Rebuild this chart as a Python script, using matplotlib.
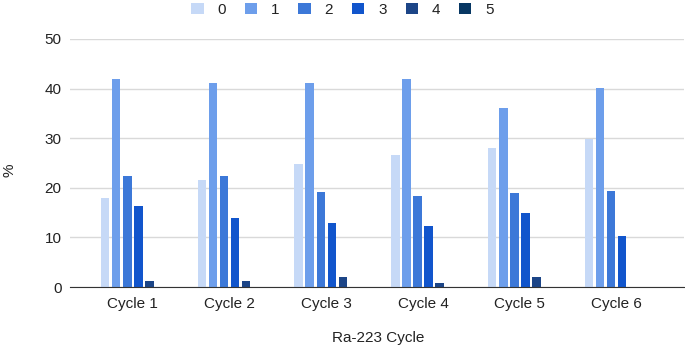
import numpy as np
import matplotlib
matplotlib.use("Agg")
import matplotlib.pyplot as plt

plt.rcParams['font.family'] = ['Liberation Sans', 'DejaVu Sans']

# Data
cycles = ["Cycle 1", "Cycle 2", "Cycle 3", "Cycle 4", "Cycle 5", "Cycle 6"]
series_names = ["0", "1", "2", "3", "4", "5"]
s0 = [18.0, 21.6, 24.8, 26.6, 28.0, 29.8]
s1 = [42.0, 41.2, 41.2, 42.0, 36.0, 40.2]
s2 = [22.3, 22.3, 19.2, 18.3, 19.0, 19.4]
s3 = [16.4, 14.0, 12.9, 12.4, 15.0, 10.3]
s4 = [1.2, 1.3, 2.0, 0.8, 2.0, 0.0]
s5 = [0.0, 0.0, 0.0, 0.0, 0.0, 0.0]
series = [s0, s1, s2, s3, s4, s5]
colors = ["#c6d9f7", "#6d9eeb", "#3c78d8", "#1155cc", "#1c4587", "#073763"]

fig = plt.figure(figsize=(6.85, 3.51), dpi=100)
ax = fig.add_axes([0.102, 0.182, 0.897, 0.707])

x = np.arange(len(cycles))
slot = 0.114
bw = 0.088
for i, (vals, c, name) in enumerate(zip(series, colors, series_names)):
    off = (i - 2.5) * slot
    ax.bar(x + off, vals, width=bw, color=c, label=name, zorder=3)

ax.set_xlim(-0.65, 5.70)
ax.set_ylim(0, 50)
ax.set_yticks([0, 10, 20, 30, 40, 50])
ax.set_xticks(x)
ax.set_xticklabels(cycles)
ax.grid(axis="y", color="#d9d9d9", linewidth=1, zorder=0)
for sp in ["top", "right", "left"]:
    ax.spines[sp].set_visible(False)
ax.spines["bottom"].set_color("#333333")
ax.spines["bottom"].set_zorder(4)
ax.tick_params(axis="both", length=0, labelsize=11, colors="#222222")
ax.tick_params(axis="y", pad=6)
ax.tick_params(axis="x", pad=7)

fig.text(0.004, 0.515, "%", rotation=90, ha="left", va="center", fontsize=11, color="#222222")
fig.text(0.552, 0.037, "Ra-223 Cycle", ha="center", va="center", fontsize=11, color="#222222")

fig.legend(loc="center", bbox_to_anchor=(0.50, 0.972), ncol=6, frameon=False,
           fontsize=11, handlelength=0.8, handleheight=0.8, handletextpad=0.9,
           columnspacing=1.25, labelcolor="#222222")

fig.savefig("out.png", dpi=100)
